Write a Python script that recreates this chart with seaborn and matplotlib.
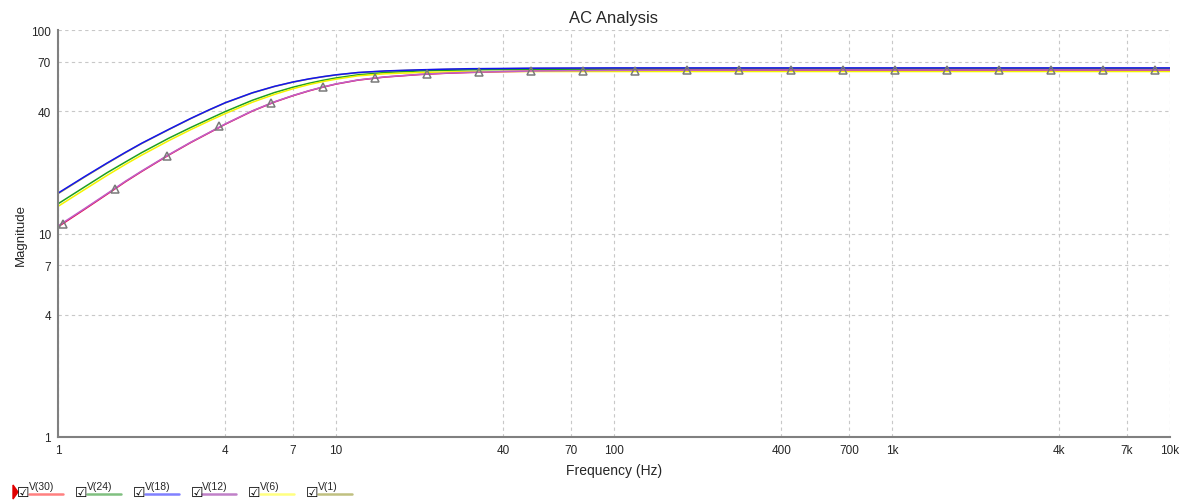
import numpy as np
import pandas as pd
import matplotlib
matplotlib.use('Agg')
import matplotlib.pyplot as plt
import seaborn as sns
from matplotlib.lines import Line2D
from matplotlib.patches import Polygon

# frequencies (Hz) and magnitudes
freq = [1, 1.25, 1.5, 1.75, 2, 2.5, 3, 3.5, 4, 5, 6, 7, 8, 9, 10, 12, 15, 20, 25, 30,
        40, 50, 70, 100, 200, 500, 1000, 2000, 5000, 10000]

v30 = [10.8, 13.2, 15.6, 18.0, 20.2, 24.3, 28.0, 31.3, 34.5, 40.0, 44.3, 47.6, 50.3, 52.5, 54.3,
       56.8, 58.8, 60.5, 61.4, 61.9, 62.5, 62.8, 63.1, 63.3, 63.5, 63.5, 63.5, 63.5, 63.5, 63.5]
v24 = [14.0, 17.0, 19.9, 22.5, 25.0, 29.4, 33.2, 36.6, 39.8, 45.2, 49.3, 52.4, 54.8, 56.7, 58.2,
       60.3, 61.9, 63.0, 63.5, 63.8, 64.0, 64.1, 64.2, 64.3, 64.3, 64.3, 64.3, 64.3, 64.3, 64.3]
v18 = [15.8, 19.1, 22.2, 25.1, 27.8, 32.5, 36.8, 40.6, 44.0, 49.2, 52.9, 55.6, 57.6, 59.1, 60.3,
       61.9, 63.0, 63.8, 64.3, 64.6, 64.8, 65.0, 65.1, 65.2, 65.2, 65.2, 65.2, 65.2, 65.2, 65.2]
v12 = [10.9, 13.3, 15.7, 18.1, 20.3, 24.4, 28.1, 31.4, 34.6, 40.1, 44.4, 47.7, 50.4, 52.6, 54.4,
       56.9, 58.9, 60.6, 61.5, 62.0, 62.6, 62.9, 63.2, 63.4, 63.6, 63.7, 63.7, 63.7, 63.7, 63.7]
v6 = [13.6, 16.5, 19.3, 21.9, 24.3, 28.6, 32.4, 35.8, 38.9, 44.2, 48.3, 51.5, 54.0, 55.9, 57.4,
      59.6, 61.0, 61.9, 62.3, 62.5, 62.6, 62.6, 62.6, 62.6, 62.6, 62.6, 62.6, 62.6, 62.6, 62.6]
v1 = [15.7, 19.0, 22.1, 25.0, 27.7, 32.4, 36.7, 40.5, 43.9, 49.1, 52.8, 55.5, 57.5, 59.0, 60.2,
      61.8, 62.9, 63.7, 64.1, 64.4, 64.6, 64.8, 64.9, 65.0, 65.0, 65.0, 65.0, 65.0, 65.0, 65.0]

# cursor markers sitting on V(30)
mark_freq = [1.04, 1.60, 2.46, 3.79, 5.83, 8.97, 13.8, 21.2, 32.6, 50.2, 77.2, 119, 183, 281,
             433, 666, 1025, 1577, 2426, 3733, 5744, 8838]
mark_v30 = [11.2, 16.5, 24.0, 33.6, 43.6, 52.3, 58.0, 60.8, 62.0, 62.8, 63.1, 63.3, 63.5, 63.5,
            63.5, 63.5, 63.5, 63.5, 63.5, 63.5, 63.5, 63.5]

series = ['V(30)', 'V(24)', 'V(18)', 'V(12)', 'V(6)', 'V(1)']
values = [v30, v24, v18, v12, v6, v1]
colors = ['#e8003c', '#20a020', '#1414f0', '#c060c8', '#f4f400', '#a8a848']
legend_colors = ['#ff8080', '#80c080', '#8080ff', '#c080c8', '#ffff80', '#c0c080']
# drawing order so the dominant colour of each overlapping pair ends up on top
draw_order = ['V(1)', 'V(24)', 'V(30)', 'V(18)', 'V(6)', 'V(12)']

x_ticks = [1, 4, 7, 10, 40, 70, 100, 400, 700, 1000, 4000, 7000, 10000]
x_labels = ['1', '4', '7', '10', '40', '70', '100', '400', '700', '1k', '4k', '7k', '10k']
y_ticks = [1, 4, 7, 10, 40, 70, 100]
y_labels = ['1', '4', '7', '10', '40', '70', '100']

df = pd.DataFrame({
    'freq': freq * len(series),
    'mag': sum(values, []),
    'trace': np.repeat(series, len(freq)),
})
palette = dict(zip(series, colors))

sns.set_style('white')
plt.rcParams['font.family'] = ['Liberation Sans', 'DejaVu Sans']

fig = plt.figure(figsize=(11.89, 5.02), dpi=100)
ax = fig.add_axes([0.0488, 0.1275, 0.9352, 0.8105])
ax.set_xscale('log')
ax.set_yscale('log')

for name in draw_order:
    sns.lineplot(data=df[df['trace'] == name], x='freq', y='mag', color=palette[name],
                 estimator=None, sort=False, linewidth=1.1, legend=False, ax=ax)
ax.plot(mark_freq, mark_v30, linestyle='none', marker='^', markersize=5.5,
        markerfacecolor='none', markeredgecolor='#7a7a7a', markeredgewidth=1.1)

ax.set_xlim(1, 10000)
ax.set_ylim(1, 100)
ax.set_xticks(x_ticks)
ax.set_xticklabels(x_labels)
ax.set_yticks(y_ticks)
ax.set_yticklabels(y_labels)
ax.minorticks_off()
ax.tick_params(axis='both', labelsize=8.5, length=3, width=0.8, color='#808080', pad=2)
ax.grid(True, color='#c8c8c8', linestyle=(0, (3, 3)), linewidth=0.8)

for side in ['top', 'right']:
    ax.spines[side].set_visible(False)
for side in ['left', 'bottom']:
    ax.spines[side].set_color('#808080')
    ax.spines[side].set_linewidth(1.5)

ax.set_title('AC Analysis', fontsize=12, pad=6)
ax.set_xlabel('Frequency (Hz)', fontsize=10, labelpad=5)
ax.set_ylabel('Magnitude', fontsize=9.5, labelpad=3)

# trace list at the bottom, as in the simulator window
W, H = 1189.0, 502.0
fig.add_artist(Polygon([[13 / W, 1 - 486 / H], [13 / W, 1 - 500 / H], [18 / W, 1 - 493 / H]],
                       closed=True, color='#e00000', transform=fig.transFigure))
for i, (name, c) in enumerate(zip(series, legend_colors)):
    x0 = 17 + i * 57.8
    fig.text(x0 / W, 1 - 493 / H, '\u2611', fontsize=10, family='DejaVu Sans',
             va='center', ha='left', color='black')
    fig.text((x0 + 12) / W, 1 - 487 / H, name, fontsize=7.5, va='center', ha='left')
    fig.add_artist(Line2D([(x0 + 12) / W, (x0 + 46) / W], [1 - 495 / H, 1 - 495 / H],
                          color=c, linewidth=1.8, transform=fig.transFigure))

fig.savefig('out.png', dpi=100)
